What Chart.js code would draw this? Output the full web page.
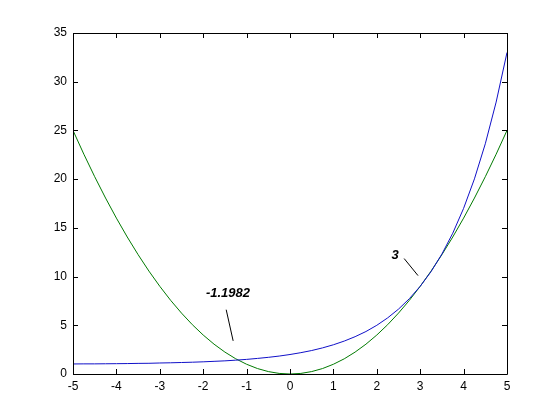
<!DOCTYPE html>
<html>
<head>
<meta charset="utf-8">
<script src="https://cdn.jsdelivr.net/npm/chart.js@4/dist/chart.umd.min.js"></script>
<style>
  html, body { margin: 0; padding: 0; background: #fff; }
  #wrap { width: 560px; height: 420px; }
</style>
</head>
<body>
<div id="wrap"><canvas id="myChart" width="560" height="420"></canvas></div>
<script>
// x positions of the samples
const xs = [-5, -4.75, -4.5, -4.25, -4, -3.75, -3.5, -3.25, -3, -2.75, -2.5, -2.25, -2, -1.75, -1.5, -1.25, -1, -0.75, -0.5, -0.25,
  0, 0.25, 0.5, 0.75, 1, 1.25, 1.5, 1.75, 2, 2.25, 2.5, 2.75, 3, 3.25, 3.5, 3.75, 4, 4.25, 4.5, 4.75, 5];

// blue curve
const blueVals = [1.03, 1.04, 1.04, 1.05, 1.06, 1.07, 1.09, 1.1, 1.13, 1.15, 1.18, 1.21, 1.25, 1.3, 1.35, 1.42, 1.5, 1.6, 1.71, 1.84,
  2, 2.19, 2.41, 2.68, 3, 3.38, 3.83, 4.36, 5, 5.76, 6.66, 7.73, 9, 10.51, 12.31, 14.45, 17, 20.03, 23.63, 27.91, 33];

// green curve
const greenVals = [25, 22.56, 20.25, 18.06, 16, 14.06, 12.25, 10.56, 9, 7.56, 6.25, 5.06, 4, 3.06, 2.25, 1.56, 1, 0.56, 0.25, 0.06,
  0, 0.06, 0.25, 0.56, 1, 1.56, 2.25, 3.06, 4, 5.06, 6.25, 7.56, 9, 10.56, 12.25, 14.06, 16, 18.06, 20.25, 22.56, 25];

const xTicks = [-5, -4, -3, -2, -1, 0, 1, 2, 3, 4, 5];
const yTicks = [0, 5, 10, 15, 20, 25, 30, 35];

// text labels with their pointer lines, in data units
const notes = [
  {text: "-1.1982", at: [-1.43, 8.3], line: [[-1.47, 6.6], [-1.31, 3.4]]},
  {text: "3", at: [2.42, 12.2], line: [[2.63, 11.85], [2.95, 10.1]]}
];

const toPts = (vals) => xs.map((x, i) => ({x: x, y: vals[i]}));

// MATLAB style frame: box round the axes, ticks pointing inward on all sides
const boxPlugin = {
  id: "box",
  afterDatasetsDraw(chart) {
    const ctx = chart.ctx;
    const a = chart.chartArea;
    const sx = chart.scales.x, sy = chart.scales.y;
    const tl = 5;
    ctx.save();
    ctx.strokeStyle = "#000";
    ctx.lineWidth = 1;
    ctx.beginPath();
    ctx.rect(Math.round(a.left) + 0.5, Math.round(a.top) + 0.5, Math.round(a.right - a.left), Math.round(a.bottom - a.top));
    xTicks.forEach((v) => {
      const px = Math.round(sx.getPixelForValue(v)) + 0.5;
      ctx.moveTo(px, a.bottom); ctx.lineTo(px, a.bottom - tl);
      ctx.moveTo(px, a.top); ctx.lineTo(px, a.top + tl);
    });
    yTicks.forEach((v) => {
      const py = Math.round(sy.getPixelForValue(v)) + 0.5;
      ctx.moveTo(a.left, py); ctx.lineTo(a.left + tl, py);
      ctx.moveTo(a.right, py); ctx.lineTo(a.right - tl, py);
    });
    ctx.stroke();

    // annotations
    ctx.font = "italic bold 13px 'Liberation Sans', Arial, sans-serif";
    ctx.fillStyle = "#000";
    ctx.textAlign = "center";
    ctx.textBaseline = "middle";
    notes.forEach((n) => {
      ctx.fillText(n.text, sx.getPixelForValue(n.at[0]), sy.getPixelForValue(n.at[1]));
      ctx.beginPath();
      ctx.moveTo(sx.getPixelForValue(n.line[0][0]), sy.getPixelForValue(n.line[0][1]));
      ctx.lineTo(sx.getPixelForValue(n.line[1][0]), sy.getPixelForValue(n.line[1][1]));
      ctx.stroke();
    });
    ctx.restore();
  }
};

const tickFont = {family: "'Liberation Sans', Arial, sans-serif", size: 12};

const ctx = document.getElementById("myChart").getContext("2d");
const chart = new Chart(ctx, {
  type: "line",
  data: {
    datasets: [
      {data: toPts(blueVals), borderColor: "#1010c8", borderWidth: 1, pointRadius: 0, tension: 0, fill: false},
      {data: toPts(greenVals), borderColor: "#007a00", borderWidth: 1, pointRadius: 0, tension: 0, fill: false}
    ]
  },
  options: {
    responsive: false,
    animation: false,
    layout: {padding: {left: 0, top: 33, right: 53, bottom: 0}},
    plugins: {legend: {display: false}, tooltip: {enabled: false}},
    scales: {
      x: {
        type: "linear", min: -5, max: 5,
        afterBuildTicks: (s) => { s.ticks = xTicks.map((v) => ({value: v})); },
        afterFit: (s) => { s.height = 46; },
        grid: {display: false, drawTicks: false},
        border: {display: false},
        ticks: {color: "#000", font: tickFont, padding: 5, maxRotation: 0}
      },
      y: {
        type: "linear", min: 0, max: 35,
        afterBuildTicks: (s) => { s.ticks = yTicks.map((v) => ({value: v})); },
        afterFit: (s) => { s.width = 73; },
        grid: {display: false, drawTicks: false},
        border: {display: false},
        ticks: {color: "#000", font: tickFont, padding: 6}
      }
    }
  },
  plugins: [boxPlugin]
});
</script>
</body>
</html>
